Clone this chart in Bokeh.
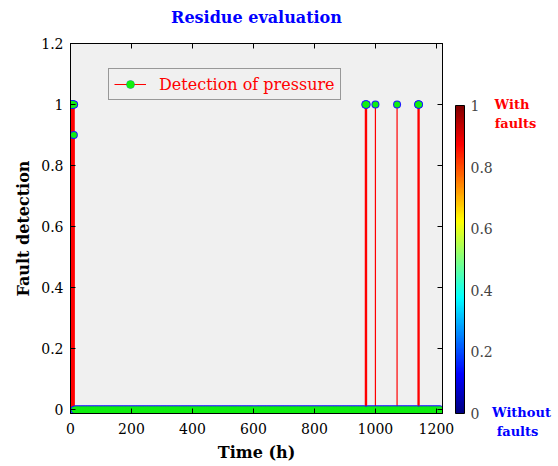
import numpy as np
from bokeh.plotting import figure
from bokeh.layouts import row, column
from bokeh.models import (ColumnDataSource, ColorBar, LinearColorMapper, FixedTicker,
                          LinearAxis, Legend, LegendItem, Range1d, CustomJSTickFormatter)
from bokeh.core.properties import value
from bokeh.embed import file_html
from bokeh.resources import INLINE

# ---------------- data ----------------
# hourly samples of the residue-based fault detection (0 = no fault)
t_start_h = 0
t_end_h = 1215
fault_times = [0, 1, 2, 3, 4, 5, 6, 7, 8, 9, 10, 11, 12,
               967, 968, 969, 970, 971,
               1000,
               1071,
               1140, 1141, 1142, 1143]
fault_values = [1, 1, 1, 1, 1, 1, 1, 1, 1, 1, 1, 0.9, 1,
                1, 1, 1, 1, 1,
                1,
                1,
                1, 1, 1, 1]
x_ticks = [0, 200, 400, 600, 800, 1000, 1200]
y_ticks = [0, 0.2, 0.4, 0.6, 0.8, 1.0, 1.2]
cbar_ticks = [0, 0.2, 0.4, 0.6, 0.8, 1.0]
title_text = ["Residue evaluation"]
side_texts = ["With", "faults", "Without", "faults"]
side_colors = ["#ff0000", "#ff0000", "#0000ff", "#0000ff"]

time_h = np.arange(t_start_h, t_end_h + 1)
detect = np.zeros(len(time_h))
for t, v in zip(fault_times, fault_values):
    detect[t - t_start_h] = v

src = ColumnDataSource(dict(t=time_h, y=detect, y0=np.zeros(len(time_h))))

# jet colormap
xs = np.linspace(0, 1, 256)
r = np.clip(1.5 - np.abs(4 * xs - 3), 0, 1)
g = np.clip(1.5 - np.abs(4 * xs - 2), 0, 1)
b = np.clip(1.5 - np.abs(4 * xs - 1), 0, 1)
jet = ["#%02x%02x%02x" % (int(round(rr * 255)), int(round(gg * 255)), int(round(bb * 255)))
       for rr, gg, bb in zip(r, g, b)]

SERIF = "DejaVu Serif"
W1 = 455
HT = 30            # height of the title strip
H = 466 - HT       # height of the chart row


def blank_fig(w, h):
    f = figure(width=w, height=h, output_backend="svg", toolbar_location=None,
               x_range=Range1d(0, w), y_range=Range1d(0, h),
               x_axis_location=None, y_axis_location=None, min_border=0,
               outline_line_color=None, background_fill_color="white", border_fill_color="white")
    f.xgrid.visible = False
    f.ygrid.visible = False
    return f


# title strip
pt = blank_fig(558, HT)
pt.text(x=[256], y=[13], text=title_text, text_color="#0000ff", text_align="center",
        text_baseline="middle", text_font=value(SERIF), text_font_style="bold",
        text_font_size="16px")

p = figure(width=W1, height=H, output_backend="svg", toolbar_location=None,
           x_range=Range1d(0, 1220), y_range=Range1d(-0.012, 1.2),
           min_border_left=70, min_border_right=W1 - 442, min_border_top=43 - HT,
           min_border_bottom=53,
           background_fill_color="#f0f0f0", border_fill_color="white",
           outline_line_color="black", outline_line_width=1)
p.xgrid.visible = False
p.ygrid.visible = False

fmt = CustomJSTickFormatter(code="return (Math.round(tick*10)/10).toString();")
blank = CustomJSTickFormatter(code="return '';")

for ax in [p.xaxis[0], p.yaxis[0]]:
    ax.major_tick_in = 5
    ax.major_tick_out = 0
    ax.minor_tick_line_color = None
    ax.axis_line_color = "black"
    ax.major_tick_line_color = "black"
    ax.major_label_text_font = SERIF
    ax.major_label_text_font_size = "14px"
    ax.major_label_text_color = "black"
    ax.axis_label_text_font = SERIF
    ax.axis_label_text_font_style = "bold"
    ax.axis_label_text_font_size = "16px"
    ax.axis_label_text_color = "black"

p.xaxis[0].ticker = FixedTicker(ticks=x_ticks)
p.yaxis[0].ticker = FixedTicker(ticks=y_ticks)
p.yaxis[0].formatter = fmt
p.xaxis[0].axis_label = "Time (h)"
p.yaxis[0].axis_label = "Fault detection"
p.xaxis[0].major_label_standoff = 9
p.xaxis[0].axis_label_standoff = 6
p.yaxis[0].major_label_standoff = 7
p.yaxis[0].axis_label_standoff = 5

top_ax = LinearAxis(ticker=FixedTicker(ticks=x_ticks), formatter=blank,
                    major_tick_in=5, major_tick_out=0, minor_tick_line_color=None,
                    major_label_standoff=0)
right_ax = LinearAxis(ticker=FixedTicker(ticks=y_ticks), formatter=blank,
                      major_tick_in=5, major_tick_out=0, minor_tick_line_color=None,
                      major_label_standoff=0)
p.add_layout(top_ax, "above")
p.add_layout(right_ax, "right")

stems = p.segment(x0="t", y0="y0", x1="t", y1="y", source=src,
                  line_color="#ff0000", line_width=1.2)
m_out = p.scatter(x="t", y="y", source=src, marker="circle", size=8,
                  fill_color="#1a1aff", line_color=None)
m_in = p.scatter(x="t", y="y", source=src, marker="circle", size=6,
                 fill_color="#11ee11", line_color=None)

legend = Legend(items=[LegendItem(label="Detection of pressure", renderers=[stems, m_out, m_in])],
                location=(38, 313), padding=5, spacing=0, margin=0,
                glyph_width=32, glyph_height=20, label_height=20, label_standoff=13,
                label_text_font=SERIF, label_text_font_size="16px", label_text_color="#ff0000",
                background_fill_color="#f0f0f0", background_fill_alpha=1,
                border_line_color="#404040", border_line_width=1)
p.add_layout(legend, "center")

# side panel: colour bar and its captions
W2 = 558 - W1
p2 = blank_fig(W2, H)

mapper = LinearColorMapper(palette=jet, low=0, high=1)
cb = ColorBar(color_mapper=mapper, width=9, height=308, ticker=FixedTicker(ticks=cbar_ticks),
              formatter=fmt, location=(0, 53), padding=0, margin=0,
              bar_line_color="black", major_tick_line_color="black",
              major_tick_in=0, major_tick_out=0, major_label_text_font=SERIF,
              major_label_text_font_size="14px", label_standoff=6,
              background_fill_color="white", background_fill_alpha=0)
p2.add_layout(cb, "center")

p2.text(x=[56.5, 60, 66, 62], y=[362, 343, 54, 35], text=side_texts, text_color=side_colors,
        text_align="center", text_baseline="middle", text_font=value(SERIF),
        text_font_style="bold", text_font_size="13px")

layout = column(row(pt, spacing=0), row(p, column(p2, spacing=0), spacing=0), spacing=0)
open("out.html", "w").write(file_html(layout, INLINE))
